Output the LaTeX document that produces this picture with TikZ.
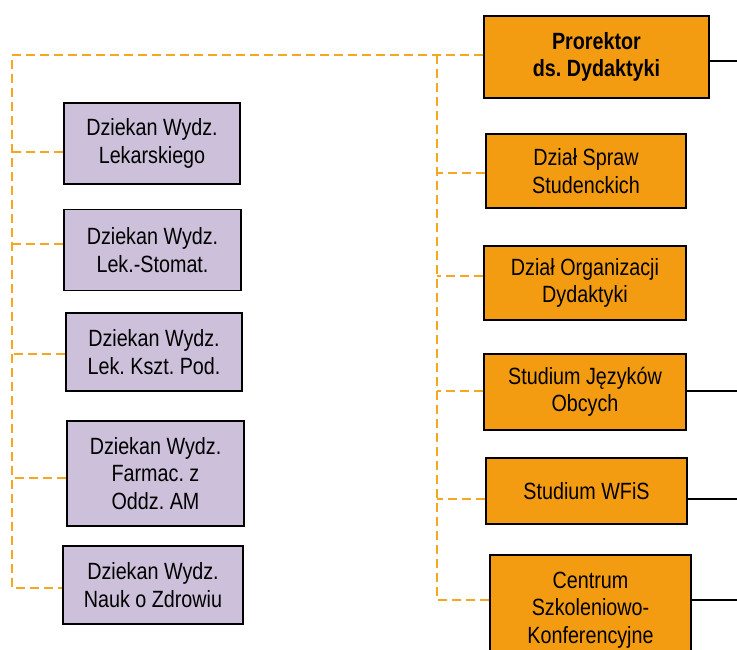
\documentclass[tikz,border=0pt]{standalone}
\usepackage{fontspec}
\setmainfont[FakeStretch=0.84]{Liberation Sans}
\frenchspacing
\definecolor{boxorange}{RGB}{243,156,18}
\definecolor{lineorange}{RGB}{245,166,35}
\definecolor{lilac}{RGB}{204,192,218}
\tikzset{
  basebox/.style={draw=black, line width=1.5pt, align=center, inner sep=2pt,
    font=\fontsize{23.5}{27.5}\selectfont, text=black},
  lbox/.style={basebox, fill=lilac},
  obox/.style={basebox, fill=boxorange},
  dline/.style={draw=lineorange, line width=1.8pt, dash pattern=on 9pt off 5pt},
  sline/.style={draw=black, line width=1.5pt},
}
\begin{document}
\begin{tikzpicture}[x=1pt,y=-1pt]
\useasboundingbox (0,0) rectangle (737,650);
\clip (0,0) rectangle (737,650);
% left column
\node[lbox, minimum width=176pt, minimum height=81pt] (d1) at (152,143.5) {Dziekan Wydz.\\Lekarskiego};
\node[lbox, minimum width=177pt, minimum height=81pt] (d2) at (152.5,250) {Dziekan Wydz.\\Lek.-Stomat.};
\node[lbox, minimum width=176pt, minimum height=78pt] (d3) at (154,352) {Dziekan Wydz.\\Lek. Kszt. Pod.};
\node[lbox, minimum width=177pt, minimum height=105pt] (d4) at (155.5,473.5) {Dziekan Wydz.\\Farmac. z\\Oddz. AM};
\node[lbox, minimum width=180pt, minimum height=78pt] (d5) at (153,585) {Dziekan Wydz.\\Nauk o Zdrowiu};
% right column
\node[obox, minimum width=225pt, minimum height=82pt, font=\fontsize{23.5}{27.5}\selectfont\bfseries] (pro) at (596.5,57) {Prorektor\\ds. Dydaktyki};
\node[obox, minimum width=200pt, minimum height=74pt] (r1) at (586,171) {Dział Spraw\\Studenckich};
\node[obox, minimum width=202pt, minimum height=74pt] (r2) at (585,283) {Dział Organizacji\\Dydaktyki};
\node[obox, minimum width=202pt, minimum height=76pt] (r3) at (585,392) {Studium Języków\\Obcych};
\node[obox, minimum width=201pt, minimum height=66pt] (r4) at (586.5,491) {Studium WFiS};
\node[obox, minimum width=201pt, minimum height=110pt] (r5) at (590.5,610) {Centrum\\Szkoleniowo-\\Konferencyjne};
% coordinates
\coordinate (Ltop) at (12,55);
\coordinate (Rv) at (437,55);
\coordinate (E) at (737,0);
\coordinate (prow) at ([yshift=2pt]pro.west);
\coordinate (proe) at ([yshift=-4pt]pro.east);
\coordinate (d1w) at ([yshift=-8.5pt]d1.west);
\coordinate (d2w) at ([yshift=6pt]d2.west);
\coordinate (d3w) at ([yshift=-2pt]d3.west);
\coordinate (d4w) at ([yshift=-4.5pt]d4.west);
\coordinate (d5w) at ([yshift=-3pt]d5.west);
\coordinate (r1w) at ([yshift=-2pt]r1.west);
\coordinate (r2w) at ([yshift=7pt]r2.west);
\coordinate (r3w) at ([yshift=1pt]r3.west);
\coordinate (r4w) at ([yshift=-8pt]r4.west);
\coordinate (r5w) at ([yshift=10pt]r5.west);
\coordinate (r3e) at ([yshift=1pt]r3.east);
\coordinate (r4e) at ([yshift=-8pt]r4.east);
\coordinate (r5e) at ([yshift=10pt]r5.east);
% dashed trunk
\draw[dline] (prow) -- (Ltop) -- (Ltop |- d5w) -- (d5w);
\draw[dline] (Rv) -- (Rv |- r5w);
% left branches
\draw[dline] (d1w) -- (d1w -| Ltop);
\draw[dline] (d2w) -- (d2w -| Ltop);
\draw[dline] (d3w) -- (d3w -| Ltop);
\draw[dline] (d4w) -- (d4w -| Ltop);
% right branches
\draw[dline] (r1w) -- (r1w -| Rv);
\draw[dline] (r2w) -- (r2w -| Rv);
\draw[dline] (r3w) -- (r3w -| Rv);
\draw[dline] (r4w) -- (r4w -| Rv);
\draw[dline] (r5w) -- (r5w -| Rv);
% solid right lines
\draw[sline] (proe) -- (proe -| E);
\draw[sline] (r3e) -- (r3e -| E);
\draw[sline] (r4e) -- (r4e -| E);
\draw[sline] (r5e) -- (r5e -| E);
\end{tikzpicture}
\end{document}
